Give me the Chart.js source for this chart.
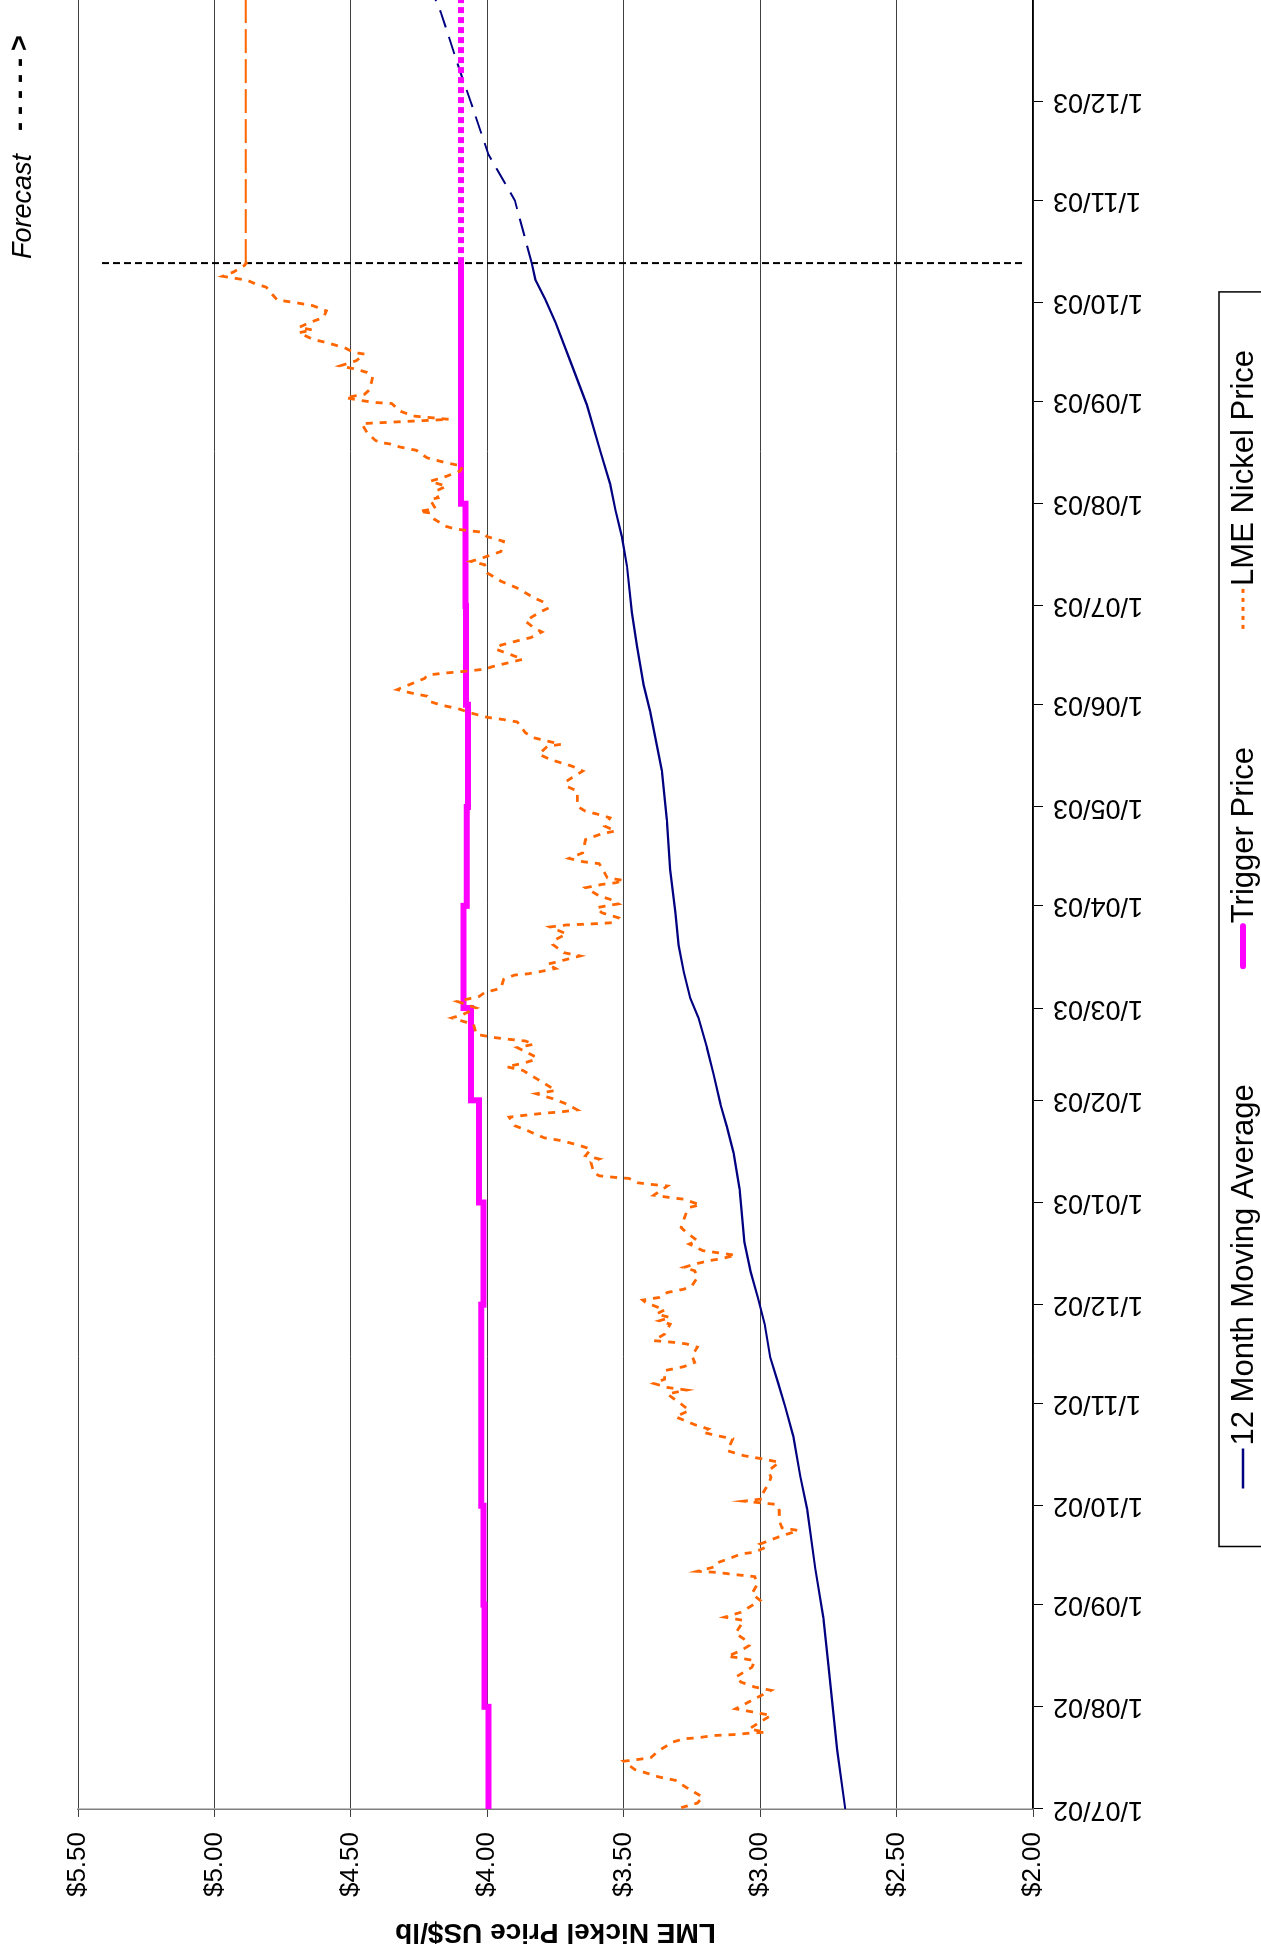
<!DOCTYPE html>
<html>
<head>
<meta charset="utf-8">
<script src="https://cdn.jsdelivr.net/npm/chart.js@4.4.1/dist/chart.umd.min.js"></script>
<style>
  html, body { margin: 0; padding: 0; background: #fff; }
  body { width: 1261px; height: 1955px; overflow: hidden; position: relative; }
  /* chart is drawn landscape, then turned a quarter turn to the left */
  #chart { position: absolute; left: 0; top: 1955px; transform-origin: 0 0; transform: rotate(-90deg); }
</style>
</head>
<body>
<canvas id="chart" width="1998" height="1261"></canvas>
<script>
// month ticks on the date axis (d/mm/yy)
const dateLabels = ['1/07/02','1/08/02','1/09/02','1/10/02','1/11/02','1/12/02','1/01/03','1/02/03','1/03/03',
  '1/04/03','1/05/03','1/06/03','1/07/03','1/08/03','1/09/03','1/10/03','1/11/03','1/12/03','1/01/04'];
const forecastDate = '13/10/03';

// 12 month moving average (days since 1/07/02)
const maDays = [0,18,43,58,73,91,101,113,122,129,137,147,155,163,172,188,199,207,214,223,231,240,246,254,262,272,285,300,315,333,341,353,363,377,386,394,402,412,426,438,451,458,464,469];
const maValues = [2.688,2.718,2.749,2.768,2.798,2.828,2.853,2.878,2.908,2.933,2.963,2.983,3.008,3.035,3.058,3.075,3.097,3.122,3.146,3.171,3.195,3.226,3.256,3.280,3.299,3.311,3.330,3.342,3.360,3.403,3.427,3.452,3.470,3.488,3.507,3.530,3.550,3.586,3.635,3.690,3.750,3.788,3.824,3.837];
const maForecastDays = [469,488,502,518,527,545,549];
const maForecastValues = [3.837,3.899,3.996,4.061,4.099,4.170,4.190];

// trigger price, one value per month from 1/07/02 to 1/10/03
const triggerValues = [3.990,3.996,4.010,4.014,4.022,4.022,4.014,4.030,4.060,4.087,4.075,4.071,4.078,4.080,4.096,4.096];
const triggerForecast = 4.096;

// LME nickel price US$/lb
const lmeDays = [0.4,1.8,3.6,6.5,8.7,9.7,11,12,14.5,15,15.6,17.8,20.3,21.3,21.6,22.3,22.6,23,23.3,24.3,25.9,28.4,30.4,36,37,38.5,40,43,45,45.9,46.3,48.1,49.6,51.6,53.3,57.2,58.2,59.7,63.3,65.3,68.3,70.5,71.1,71.8,72.1,73.4,74.6,76.4,77.4,77.9,79.4,80.4,82.6,84.5,85.3,87.5,90.6,92.4,93.4,94.1,95.8,98.6,100.6,102.6,105.2,106.2,107.2,108.7,112.3,113.3,114.3,115.3,116.6,119,120.9,122.9,125.9,127.1,127.9,129.1,130.4,133,134.2,135.5,137.5,140.1,141.1,141.6,142.1,144.1,147.1,148.1,149.1,150.2,151.4,153.7,154.4,155.2,156.7,157.7,158.7,161.3,163.3,164.3,165.3,166.3,167,168,169.4,171.4,172.4,174.9,176.4,181,182.5,183.3,185,185.5,186.2,189,189.5,190,191.3,191.6,192.1,193.1,196.2,197.2,198.2,200.2,201.5,202.8,203.6,204.6,206.1,207.3,209.9,210.4,211.1,211.5,212.1,213.9,215.5,217,218,220.1,221.6,224.1,225.2,226.2,227.5,228.5,231,232,233,233.5,234,235,238,240,241,243,245,246.5,247.7,249,251.7,253,253.4,254,255,256.3,257.3,258.8,259.8,262.3,263.3,265.5,267.6,268.2,268.4,268.6,268.9,270.4,271.9,273.4,273.9,274.6,276,277,279.5,280.5,281,281.7,282.5,284,286.8,287.4,288.4,290.1,294.1,295.9,296.7,298.2,300.7,301.9,302.7,304.2,308.8,310.3,311.8,313.9,314.9,316.4,318.4,320,322.4,323,324,325,326.5,329.8,330.5,331.2,332.5,333.9,334.9,336,337.6,338.6,339.6,341.3,343,344,344.6,345,345.8,346.6,347.6,348.8,350.4,351.9,353.1,354.4,355.4,357.1,358.4,360.4,363,364.2,366,367.5,370.4,372.5,374,375,377.5,378.5,379.5,381.5,384.6,386,387.4,387.8,388.4,389.1,391.6,393.2,393.7,394.5,397.3,397.8,399.8,401.3,402.8,404.3,405.9,407.4,408.4,409.9,412.2,413.2,414.2,414.5,415.2,417.5,420.3,421.6,422.6,424.1,426.4,426.7,427.4,428.2,429.2,430.7,434.5,435.8,436.8,437.8,439.4,441.4,441.9,443.2,444.2,444.9,445.9,447.9,448.7,449.5,451,452.5,454.5,456.1,457.1,457.8,459.7,461.7,462.7,463.8,464.6,465,466.3,468.3,469.4];
const lmePrice = [3.29,3.23,3.21,3.27,3.31,3.37,3.42,3.46,3.50,3.45,3.40,3.37,3.32,3.28,3.23,3.17,3.09,3.04,2.98,3.04,3.01,2.96,3.09,2.96,3.02,3.07,3.09,3.03,3.02,3.08,3.12,3.07,3.04,3.06,3.09,3.06,3.13,3.07,3.00,3.03,3.01,3.02,3.09,3.16,3.23,3.17,3.16,3.10,3.07,3.02,2.98,3.00,2.93,2.86,2.92,2.93,2.93,2.94,3.06,2.99,2.99,2.97,2.96,2.97,2.93,2.99,3.06,3.12,3.10,3.16,3.21,3.19,3.24,3.31,3.26,3.29,3.34,3.27,3.34,3.39,3.35,3.35,3.28,3.24,3.25,3.23,3.27,3.32,3.39,3.35,3.33,3.37,3.33,3.38,3.35,3.42,3.43,3.37,3.34,3.28,3.25,3.23,3.24,3.28,3.24,3.19,3.14,3.09,3.21,3.26,3.23,3.27,3.29,3.27,3.26,3.22,3.28,3.33,3.39,3.34,3.40,3.45,3.48,3.53,3.59,3.61,3.62,3.59,3.64,3.62,3.67,3.73,3.79,3.82,3.86,3.90,3.92,3.87,3.79,3.73,3.67,3.71,3.76,3.82,3.75,3.79,3.82,3.87,3.93,3.87,3.82,3.83,3.89,3.83,3.86,3.92,3.97,4.04,4.05,4.13,4.09,4.04,4.11,4.03,4.01,3.95,3.94,3.90,3.85,3.81,3.75,3.78,3.73,3.66,3.72,3.76,3.76,3.71,3.77,3.71,3.65,3.60,3.54,3.52,3.58,3.60,3.57,3.52,3.55,3.59,3.64,3.58,3.53,3.50,3.56,3.57,3.59,3.65,3.70,3.65,3.64,3.58,3.53,3.57,3.55,3.60,3.64,3.67,3.67,3.71,3.71,3.67,3.65,3.69,3.77,3.81,3.78,3.73,3.78,3.83,3.86,3.89,3.94,4.00,4.06,4.11,4.17,4.21,4.22,4.28,4.33,4.28,4.23,4.22,4.16,4.10,4.01,3.98,3.93,3.87,3.92,3.97,3.95,3.89,3.84,3.80,3.83,3.86,3.81,3.78,3.79,3.83,3.89,3.95,3.98,4.00,4.01,4.06,4.02,3.95,3.94,4.00,4.02,4.07,4.12,4.15,4.20,4.21,4.25,4.19,4.21,4.18,4.19,4.15,4.21,4.15,4.10,4.09,4.15,4.22,4.26,4.32,4.36,4.39,4.41,4.44,4.46,4.14,4.27,4.32,4.35,4.41,4.47,4.52,4.45,4.43,4.42,4.44,4.48,4.54,4.48,4.45,4.49,4.52,4.56,4.59,4.64,4.69,4.64,4.69,4.65,4.60,4.59,4.64,4.71,4.77,4.79,4.81,4.85,4.88,4.94,4.97,4.93,4.89,4.88];
const lmeForecast = 4.885;

// dashed marker where the forecast starts
const markerValues = [2.04, 5.42];

function toDay(lbl) {
  const [d, m, y] = lbl.split('/').map(Number);
  return Math.round((Date.UTC(2000 + y, m - 1, d) - Date.UTC(2002, 6, 1)) / 86400000);
}
const tickDays = dateLabels.map(toDay);
const lastDay = tickDays[tickDays.length - 1];
const fDay = toDay(forecastDate);

const pts = (xs, ys) => xs.map((x, i) => ({ x: x, y: ys[i] }));
const trigDays = tickDays.slice(0, triggerValues.length).concat([fDay]);
const trigVals = triggerValues.concat([triggerForecast]);

const NAVY = '#000080', MAGENTA = '#ff00ff', ORANGE = '#ff6600';
const FONT = "'Liberation Sans', Arial, sans-serif";

// legend drawn like the spreadsheet one: boxed, wide gaps
const legendItems = [
  { text: '12 Month Moving Average', color: NAVY, width: 2.5, dash: [] },
  { text: 'Trigger Price', color: MAGENTA, width: 6, dash: [] },
  { text: 'LME Nickel Price', color: ORANGE, width: 3, dash: [4, 5] }
];

const extras = {
  id: 'extras',
  afterDraw(chart) {
    const ctx = chart.ctx, ca = chart.chartArea, xs = chart.scales.x;
    ctx.save();
    // forecast note above the plot
    ctx.fillStyle = '#000';
    ctx.textBaseline = 'alphabetic';
    ctx.font = 'italic 27px ' + FONT;
    const u0 = xs.getPixelForValue(fDay) + 4;
    ctx.fillText('Forecast', u0, ca.top - 47);
    const w0 = ctx.measureText('Forecast').width;
    ctx.font = 'bold 27px ' + FONT;
    ctx.letterSpacing = '7px';
    ctx.fillText('----->', u0 + w0 + 23, ca.top - 50);
    ctx.letterSpacing = '0px';

    // legend
    ctx.font = '31px ' + FONT;
    const sample = 40, gap = 118, margin = 58;
    const widths = legendItems.map(it => sample + 3 + ctx.measureText(it.text).width);
    const total = widths.reduce((a, b) => a + b, 0) + gap * (legendItems.length - 1);
    const mid = (ca.left + ca.right) / 2 - 15;
    const vTop = ca.bottom + 186, vMid = ca.bottom + 210;
    let u = mid - total / 2;
    ctx.strokeStyle = '#000';
    ctx.lineWidth = 1.5;
    ctx.setLineDash([]);
    ctx.strokeRect(u - margin, vTop, total + 2 * margin, 120);
    ctx.textBaseline = 'middle';
    legendItems.forEach((it, i) => {
      ctx.beginPath();
      ctx.strokeStyle = it.color;
      ctx.lineWidth = it.width;
      ctx.lineCap = it.width > 4 ? 'round' : 'butt';
      ctx.setLineDash(it.dash);
      ctx.moveTo(u, vMid);
      ctx.lineTo(u + sample, vMid);
      ctx.stroke();
      ctx.fillStyle = '#000';
      ctx.fillText(it.text, u + sample + 3, vMid + 1);
      u += widths[i] + gap;
    });
    ctx.restore();
  }
};

const lineDefaults = { pointRadius: 0, tension: 0, fill: false };

new Chart(document.getElementById('chart'), {
  type: 'line',
  data: {
    datasets: [
      Object.assign({ label: 'LME Nickel Price', data: pts(lmeDays, lmePrice), borderColor: ORANGE, borderWidth: 2.8, borderDash: [7, 7], order: 1 }, lineDefaults),
      Object.assign({ label: 'LME forecast', data: pts([fDay, lastDay], [lmeForecast, lmeForecast]), borderColor: ORANGE, borderWidth: 2, borderDash: [24, 6], order: 1 }, lineDefaults),
      Object.assign({ label: 'Trigger Price', data: pts(trigDays, trigVals), borderColor: MAGENTA, borderWidth: 6, stepped: 'after', order: 2 }, lineDefaults),
      Object.assign({ label: 'Trigger forecast', data: pts([fDay, lastDay], [triggerForecast, triggerForecast]), borderColor: MAGENTA, borderWidth: 6, borderDash: [6, 4], order: 2 }, lineDefaults),
      Object.assign({ label: '12 Month Moving Average', data: pts(maDays, maValues), borderColor: NAVY, borderWidth: 2.2, order: 3 }, lineDefaults),
      Object.assign({ label: 'MA forecast', data: pts(maForecastDays, maForecastValues), borderColor: NAVY, borderWidth: 2, borderDash: [18, 10], order: 3 }, lineDefaults),
      Object.assign({ label: 'Forecast start', data: pts([fDay, fDay], markerValues), borderColor: '#000', borderWidth: 2, borderDash: [7, 4], order: 4 }, lineDefaults)
    ]
  },
  options: {
    responsive: false,
    animation: false,
    devicePixelRatio: 1,
    layout: { padding: { top: 78, left: 0, right: 18, bottom: 0 } },
    plugins: { legend: { display: false }, tooltip: { enabled: false } },
    scales: {
      x: {
        type: 'linear',
        min: 0,
        max: lastDay,
        afterBuildTicks: s => { s.ticks = tickDays.map(v => ({ value: v })); },
        afterFit: s => { s.height = 228; },
        grid: { drawOnChartArea: false, drawTicks: true, tickLength: 10, tickColor: '#000' },
        border: { display: true, color: '#000', width: 1.5 },
        ticks: {
          autoSkip: false, maxRotation: 90, minRotation: 90, padding: 10,
          color: '#000', font: { family: FONT, size: 27 },
          callback: v => (v === lastDay ? '' : dateLabels[tickDays.indexOf(v)])
        }
      },
      y: {
        min: 2,
        max: 5.5,
        afterFit: s => { s.width = 146; },
        grid: { color: '#404040', lineWidth: 1, tickLength: 8, tickColor: '#404040' },
        border: { color: '#808080', width: 1.5 },
        ticks: {
          stepSize: 0.5, padding: 15, color: '#000',
          font: { family: FONT, size: 26 },
          callback: v => '$' + v.toFixed(2)
        },
        title: {
          display: true, text: 'LME Nickel Price US$/lb', color: '#000',
          font: { family: FONT, size: 28, weight: 'bold' },
          padding: { top: 6, bottom: 0 }
        }
      }
    }
  },
  plugins: [extras]
});
</script>
</body>
</html>
